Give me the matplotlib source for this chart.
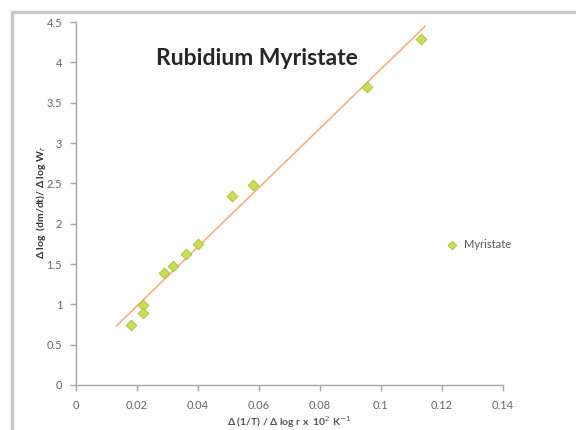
import numpy as np
import matplotlib
matplotlib.use("Agg")
import matplotlib.pyplot as plt
from matplotlib.patches import Rectangle

plt.rcParams['font.family'] = ['Lato', 'DejaVu Sans']

# data
x_vals = [0.018, 0.0219, 0.0219, 0.029, 0.0319, 0.036, 0.040, 0.051, 0.058, 0.0953, 0.113]
y_vals = [0.74, 0.99, 0.89, 1.39, 1.47, 1.62, 1.745, 2.34, 2.48, 3.69, 4.29]
series_name = "Myristate"
x_ticks = [0, 0.02, 0.04, 0.06, 0.08, 0.1, 0.12, 0.14]
x_ticklabels = ["0", "0.02", "0.04", "0.06", "0.08", "0.1", "0.12", "0.14"]
y_ticks = [0, 0.5, 1, 1.5, 2, 2.5, 3, 3.5, 4, 4.5]
y_ticklabels = ["0", "0.5", "1", "1.5", "2", "2.5", "3", "3.5", "4", "4.5"]

fig = plt.figure(figsize=(5.76, 4.3), dpi=100)
ax = fig.add_axes([0.132, 0.1047, 0.741, 0.844])

# linear trendline (Excel style, a little past the data)
slope, icpt = np.polyfit(x_vals, y_vals, 1)
tx = np.array([0.0133, 0.1145])
ax.plot(tx, slope * tx + icpt, color='#f4b183', lw=1.2, zorder=2)

ax.scatter(x_vals, y_vals, marker='D', s=30, color='#c9dd55',
           edgecolor='#a9c03a', linewidth=0.6, zorder=3, label=series_name)

ax.set_xlim(0, 0.14)
ax.set_ylim(0, 4.5)
ax.set_xticks(x_ticks)
ax.set_xticklabels(x_ticklabels)
ax.set_yticks(y_ticks)
ax.set_yticklabels(y_ticklabels)
for s in ['top', 'right']:
    ax.spines[s].set_visible(False)
for s in ['left', 'bottom']:
    ax.spines[s].set_color('#a6a6a6')
    ax.spines[s].set_linewidth(1.0)
ax.tick_params(colors='#a6a6a6', labelcolor='#666666', labelsize=8, length=4, width=1)
ax.tick_params(axis='x', pad=7)
ax.tick_params(axis='y', pad=6)

ax.text(0.0595, 4.05, "Rubidium Myristate", fontsize=16.5, fontweight='bold',
        color='#262626', ha='center', va='center')

ax.set_xlabel("Δ (1/T) / Δ log r x  10$^2$ K$^{-1}$", fontsize=7.5,
              fontweight='bold', color='#555555', labelpad=2)
fig.text(0.071, 0.53, "Δ log  (dm/dt)/ Δ log W$_r$", rotation=90, fontsize=7.5,
         fontweight='bold', color='#333333', ha='center', va='center')

ax.legend(loc='center left', bbox_to_anchor=(0.855, 0.388), frameon=False,
          fontsize=8, handletextpad=0.1, markerscale=0.8, labelcolor='#555555',
          borderaxespad=0, borderpad=0)

# chart area border (Excel frame, cropped at right/bottom)
fig.patches.append(Rectangle((12 / 576, -0.1), 1.2, 1 - 12 / 430 + 0.1,
                             transform=fig.transFigure, fill=False,
                             edgecolor='#c8c8c8', lw=2.5, zorder=0))

fig.savefig("out.png", dpi=100)
